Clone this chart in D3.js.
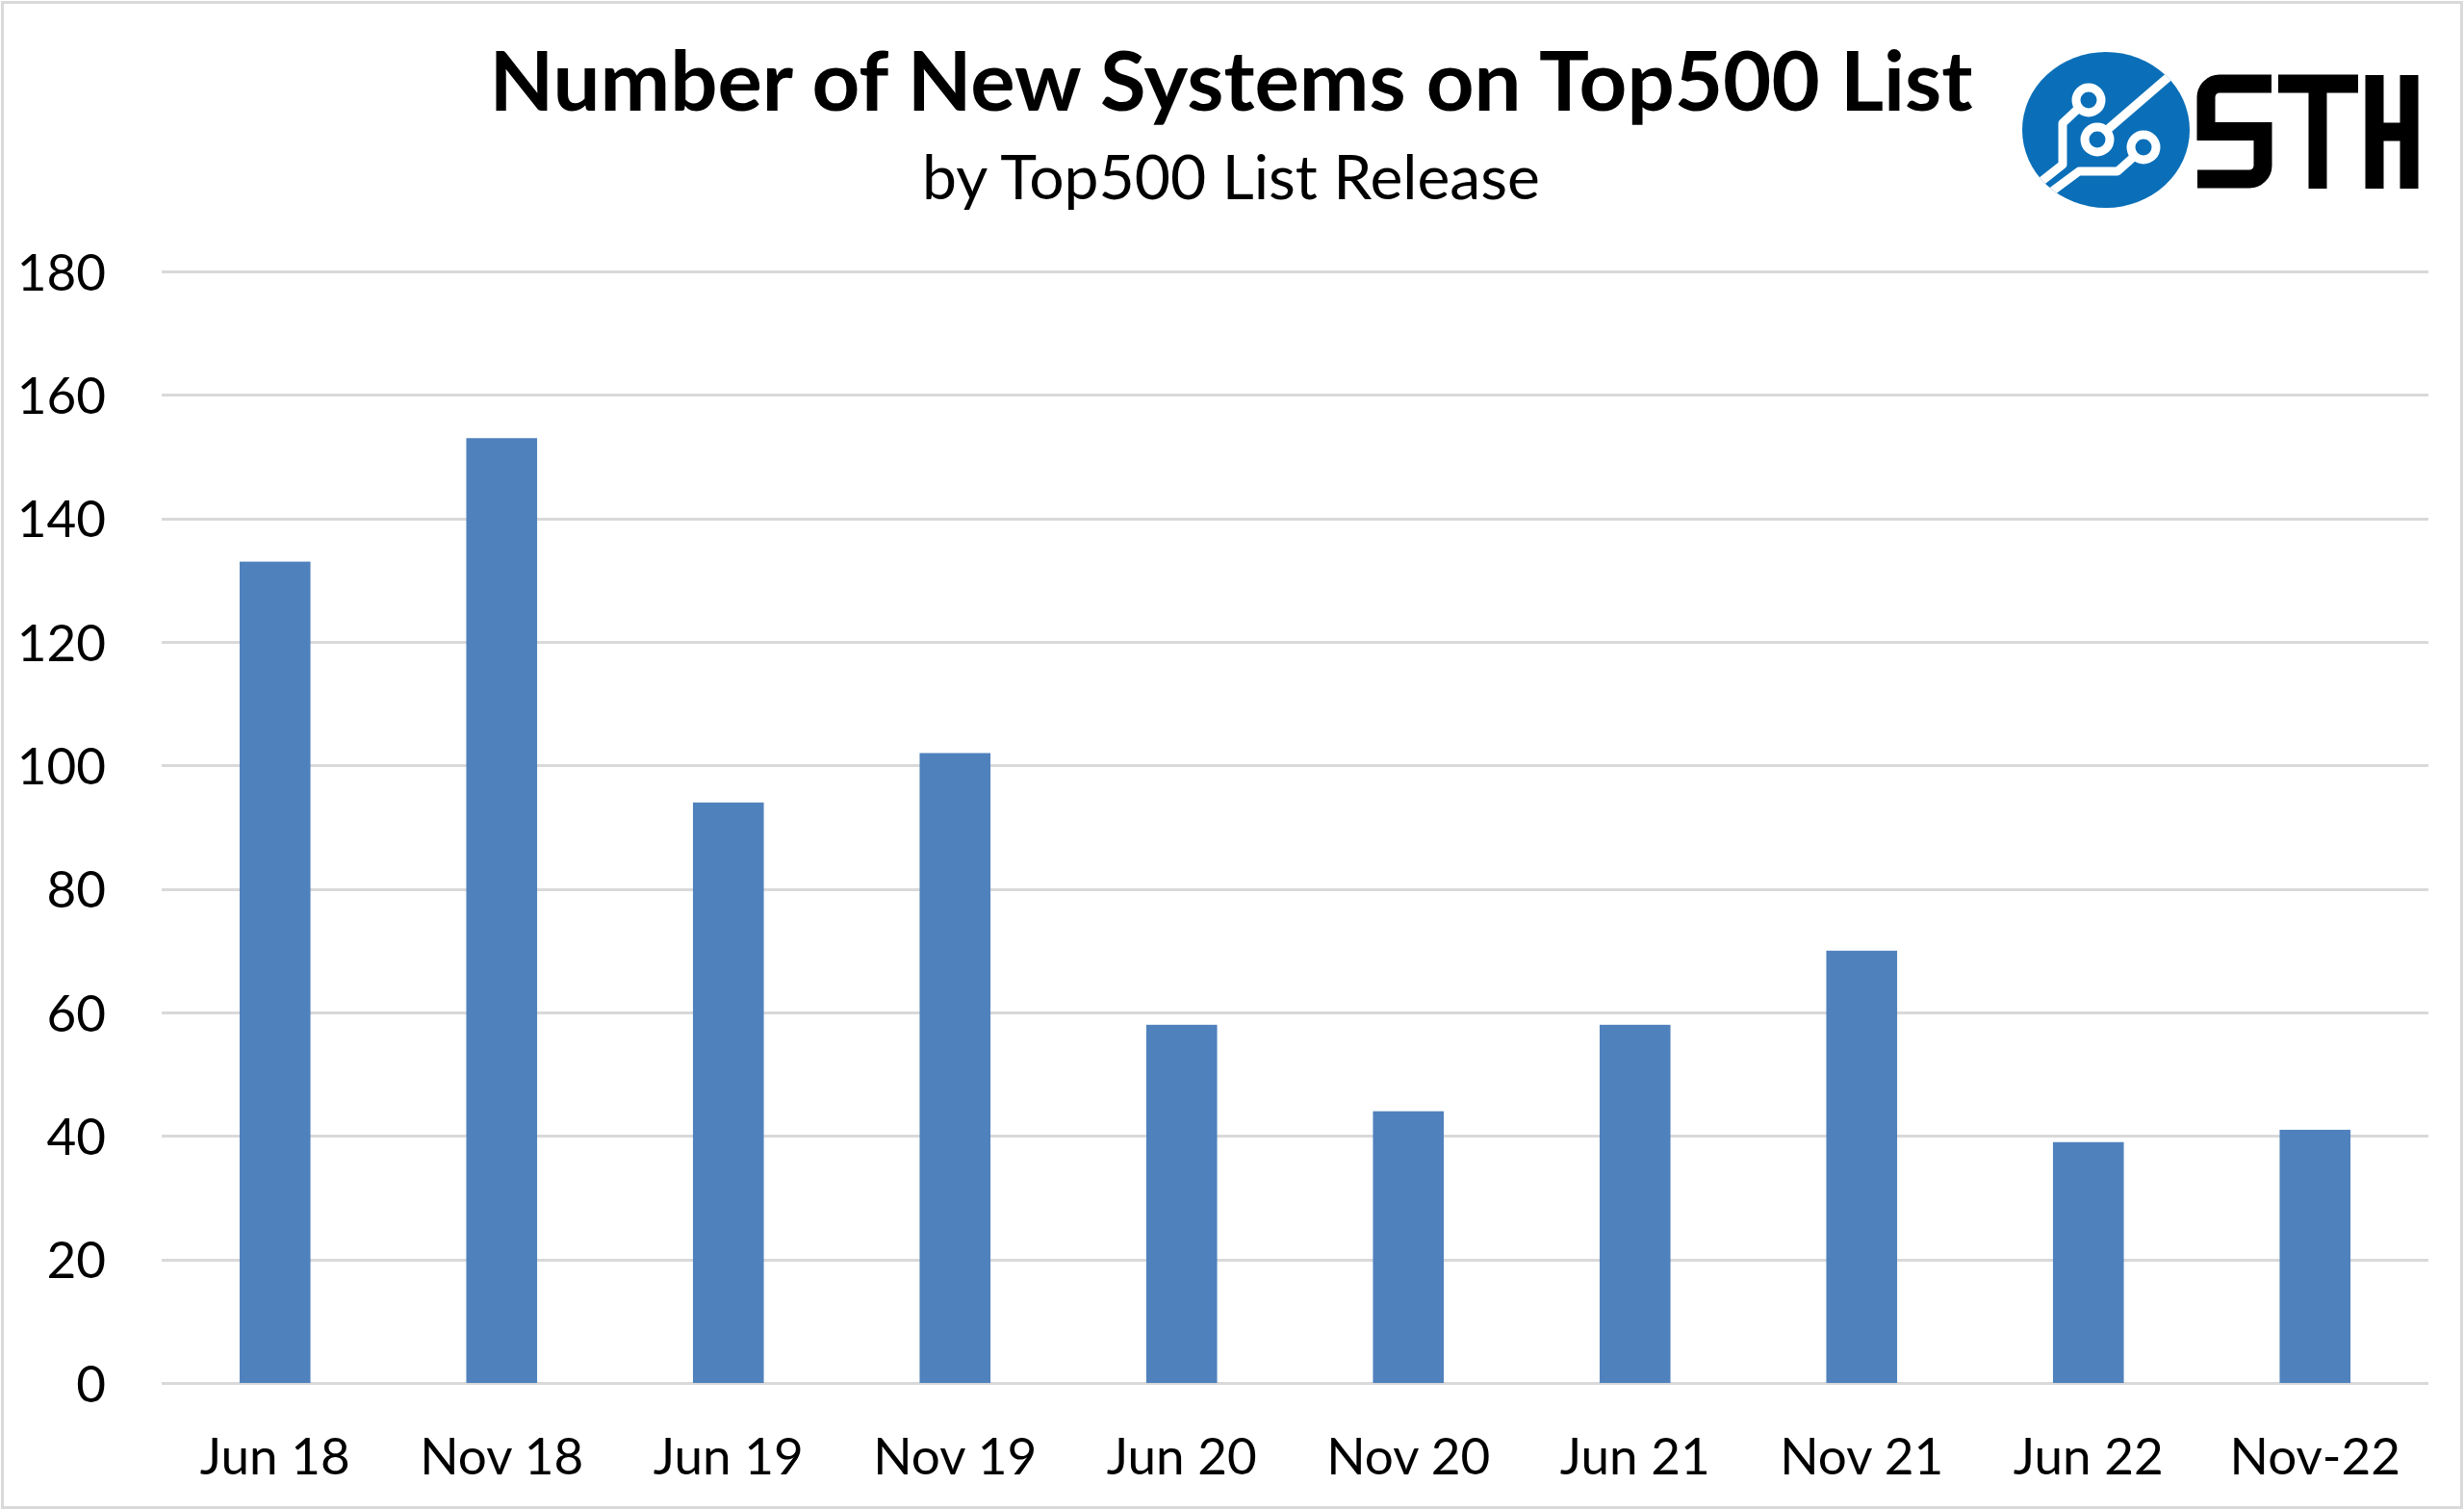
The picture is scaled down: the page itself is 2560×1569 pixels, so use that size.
<!DOCTYPE html>
<html>
<head>
    <title>Number of New Systems on Top500 List</title>
    <style>
        html, body { margin: 0; padding: 0; background: #fff; }
        #chart { display: block; }
        text { font-family: Lato, "Open Sans", sans-serif; fill: #000; }
    </style>
</head>
<body>
    <svg id="chart" width="2560" height="1569"></svg>

    <script src="https://d3js.org/d3.v7.min.js"></script>
    <script>
        // Data
        const releases = ["Jun 18", "Nov 18", "Jun 19", "Nov 19", "Jun 20",
                          "Nov 20", "Jun 21", "Nov 21", "Jun 22", "Nov-22"];
        const newSystems = [133, 153, 94, 102, 58, 44, 58, 70, 39, 41];
        const yTicks = [0, 20, 40, 60, 80, 100, 120, 140, 160, 180];

        const titleText = "Number of New Systems on Top500 List";
        const subtitleText = "by Top500 List Release";

        const width = 2560, height = 1569;
        const margin = { top: 282, right: 37, bottom: 132, left: 168 };

        const svg = d3.select("#chart");

        // outer frame
        svg.append("rect")
            .attr("x", 2.5).attr("y", 2.5)
            .attr("width", width - 5).attr("height", height - 5)
            .attr("fill", "#fff")
            .attr("stroke", "#d9d9d9")
            .attr("stroke-width", 3);

        const x = d3.scaleBand()
            .domain(releases)
            .range([margin.left, width - margin.right])
            .paddingInner(0.6875)
            .paddingOuter(0.34375);

        const y = d3.scaleLinear()
            .domain([0, 180])
            .range([height - margin.bottom, margin.top]);

        // gridlines
        svg.append("g")
            .selectAll("line")
            .data(yTicks)
            .join("line")
            .attr("x1", margin.left)
            .attr("x2", width - margin.right)
            .attr("y1", d => Math.round(y(d)) + 0.5)
            .attr("y2", d => Math.round(y(d)) + 0.5)
            .attr("stroke", "#d9d9d9")
            .attr("stroke-width", 3);

        // bars
        svg.append("g")
            .selectAll("rect")
            .data(newSystems)
            .join("rect")
            .attr("x", (d, i) => x(releases[i]))
            .attr("width", x.bandwidth())
            .attr("y", d => y(d))
            .attr("height", d => y(0) - y(d))
            .attr("fill", "#4f81bd");

        // y axis labels
        const yAxis = d3.axisLeft(y).tickValues(yTicks).tickSize(0).tickPadding(58);
        const yg = svg.append("g")
            .attr("transform", `translate(${margin.left},0)`)
            .call(yAxis);
        yg.select(".domain").remove();
        yg.selectAll("text")
            .attr("font-family", "Lato, sans-serif")
            .attr("font-size", 53)
            .attr("fill", "#000")
            .attr("dy", "0.36em");

        // x axis labels
        const xAxis = d3.axisBottom(x).tickSize(0).tickPadding(57);
        const xg = svg.append("g")
            .attr("transform", `translate(0,${height - margin.bottom})`)
            .call(xAxis);
        xg.select(".domain").remove();
        xg.selectAll("text")
            .attr("font-family", "Lato, sans-serif")
            .attr("font-size", 53)
            .attr("fill", "#000");

        // titles, fitted to the width seen in the reference
        function fitText(sel, targetWidth) {
            const node = sel.node();
            const size = parseFloat(sel.attr("font-size"));
            const w = node.getComputedTextLength();
            sel.attr("font-size", size * targetWidth / w);
        }

        const title = svg.append("text")
            .attr("x", 1279).attr("y", 115)
            .attr("text-anchor", "middle")
            .attr("font-weight", 700)
            .attr("font-size", 84)
            .text(titleText);
        fitText(title, 1541);

        const subtitle = svg.append("text")
            .attr("x", 1279).attr("y", 207)
            .attr("text-anchor", "middle")
            .attr("font-size", 63)
            .text(subtitleText);
        fitText(subtitle, 642);

        // STH logo
        const logo = svg.append("g").attr("class", "logo");
        logo.append("clipPath").attr("id", "logo-clip")
            .append("ellipse")
            .attr("cx", 2188).attr("cy", 135).attr("rx", 87).attr("ry", 81);
        logo.append("ellipse")
            .attr("cx", 2188).attr("cy", 135).attr("rx", 87).attr("ry", 81)
            .attr("fill", "#0a6fb8");

        const traces = logo.append("g")
            .attr("clip-path", "url(#logo-clip)")
            .attr("fill", "none")
            .attr("stroke", "#fff")
            .attr("stroke-width", 9)
            .attr("stroke-linejoin", "round");
        traces.append("path").attr("d", "M2160,112 L2143,128 L2143,171 L2100,205");
        traces.append("path").attr("d", "M2188,136 L2290,48");
        traces.append("path").attr("d", "M2218,162 L2200,178 L2160,178 L2110,215");
        [[2170, 104], [2179, 145], [2227, 153]].forEach(([cx, cy]) => {
            traces.append("circle")
                .attr("cx", cx).attr("cy", cy).attr("r", 13)
                .attr("fill", "#0a6fb8");
        });

        const letters = logo.append("g")
            .attr("fill", "none")
            .attr("stroke", "#000")
            .attr("stroke-width", 19);
        // S
        letters.append("path")
            .attr("d", "M2360,87 H2306 A14,14 0 0 0 2292,101 V136.5 H2351 V172 A14,14 0 0 1 2337,186 H2283");
        // T
        letters.append("path").attr("d", "M2367,87 H2450 M2408,87 V196");
        // H
        letters.append("path").attr("d", "M2467,78 V196 M2503,78 V196 M2467,137 H2503");
    </script>
</body>
</html>
